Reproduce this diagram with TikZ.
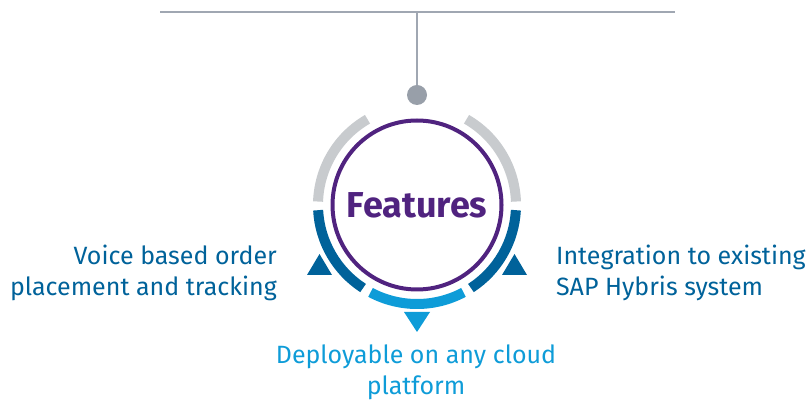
\documentclass[tikz,border=0pt]{standalone}
\usepackage{fontspec}
\setmainfont{Fira Sans}
\definecolor{boschpurple}{RGB}{80,35,127}
\definecolor{boschblue}{RGB}{0,98,154}
\definecolor{boschlight}{RGB}{14,156,216}
\definecolor{ringgray}{RGB}{200,203,206}
\definecolor{hangergray}{RGB}{160,167,178}
\usetikzlibrary{positioning,calc}

\begin{document}
\begin{tikzpicture}[x=1pt,y=1pt,
    ring/.style={line width=10pt},
    featuretext/.style={inner sep=0pt,font=\fontsize{25}{31}\selectfont}]
    \useasboundingbox (0,0) rectangle (811,401);

    % Hanger bar and knob
    \coordinate (barL) at (160,389);
    \coordinate (barR) at (675,389);
    \coordinate (barM) at (417,389);
    \draw[hangergray,line width=2pt] (barL) -- (barR);
    \node[circle,fill=hangergray!95!black,minimum size=20pt,inner sep=0pt] (knob) at (417,306) {};
    \draw[hangergray,line width=2pt] (barM) -- (knob);

    % Centre
    \node[circle,draw=boschpurple,line width=4pt,minimum size=169pt,inner sep=0pt,
          text=boschpurple,font=\fontsize{36}{40}\selectfont\bfseries] (hub) at (417,196) {Features};

    % Ring segments
    \draw[ring,ringgray] ([shift={(2:99)}]hub.center) arc[start angle=2,end angle=60,radius=99];
    \draw[ring,ringgray] ([shift={(120:99)}]hub.center) arc[start angle=120,end angle=178,radius=99];
    \draw[ring,boschblue] ([shift={(183:99)}]hub.center) arc[start angle=183,end angle=237,radius=99];
    \draw[ring,boschlight] ([shift={(242:99)}]hub.center) arc[start angle=242,end angle=298,radius=99];
    \draw[ring,boschblue] ([shift={(303:99)}]hub.center) arc[start angle=303,end angle=357,radius=99];

    % Pointers
    \fill[boschblue] ($(hub.center)+(-110,-70)$) -- ++(25,0) -- ++(-12.5,21) -- cycle;
    \fill[boschblue] ($(hub.center)+(85,-70)$) -- ++(25,0) -- ++(-12.5,21) -- cycle;
    \fill[boschlight] ($(hub.center)+(-13,-107)$) -- ++(26,0) -- ++(-13,-20) -- cycle;

    % Labels
    \node[featuretext,text=boschblue,align=right,anchor=base east] (voice) at (277,105) {Voice based order\\placement and tracking};
    \node[featuretext,text=boschblue,align=left,anchor=base west] (sap) at (556,105) {Integration to existing\\SAP Hybris system};
    \node[featuretext,text=boschlight,align=center,anchor=base] (cloud) at (416,6) {Deployable on any cloud\\platform};
\end{tikzpicture}
\end{document}
